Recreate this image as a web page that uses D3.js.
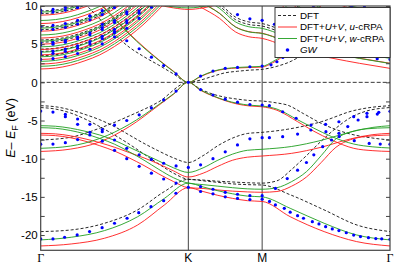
<!DOCTYPE html>
<html>
<head>
<meta charset="utf-8">
<script src="https://cdn.jsdelivr.net/npm/d3@7"></script>
<style>
  html, body { margin: 0; padding: 0; background: #fff; }
  svg { display: block; font-family: "Liberation Sans", Arial, sans-serif; }
</style>
</head>
<body>
<svg id="chart" width="397" height="266"></svg>
<script>
// k path in units of |ΓK| : Γ=0, K=1, M=1.5, Γ=2.366
var kPoints = [0, 1, 1.5, 2.366];
var kLabels = ["Γ", "K", "M", "Γ"];
var yTicks = [-20, -17.5, -15, -12.5, -10, -7.5, -5, -2.5, 0, 2.5, 5, 7.5, 10];

// ---- DFT (dashed black) ----
var dftPi = [[0,-7.55],[0.2,-7.2],[0.4,-6.0],[0.6,-4.4],[0.8,-2.55],[1,0],[1.083,-0.9],[1.167,-1.55],[1.25,-1.95],[1.333,-2.2],[1.417,-2.38],[1.5,-2.45],[1.6,-2.7],[1.67,-2.97],[1.78,-4.1],[1.9,-5.37],[2.08,-6.68],[2.25,-7.3],[2.366,-7.55]];
var dftPiStar = [[0.3,10.3],[0.4,8.3],[0.5,6.3],[0.6,4.6],[0.7,3.35],[0.8,2.25],[0.9,1.1],[1,0],[1.083,0.3],[1.167,0.8],[1.25,1.25],[1.333,1.45],[1.417,1.6],[1.5,1.7],[1.6,2.1],[1.7,2.8],[1.75,3.35],[1.84,5.1],[1.9,6.4],[2.0,8.6],[2.08,10.4]];
var dftSig3 = [[0,-3.06],[0.1,-3.2],[0.2,-3.6],[0.3,-4.2],[0.4,-4.9],[0.5,-5.8],[0.6,-6.9],[0.7,-8.0],[0.8,-9.0],[0.9,-9.9],[1,-10.5],[1.1,-9.6],[1.2,-8.3],[1.3,-7.3],[1.4,-6.7],[1.5,-6.55],[1.67,-6.15],[1.9,-5.16],[2.12,-3.7],[2.25,-3.25],[2.366,-3.06]];
var dftSig2 = [[0,-3.3],[0.1,-3.5],[0.2,-4.0],[0.3,-4.8],[0.4,-5.8],[0.5,-6.9],[0.6,-8.1],[0.7,-9.4],[0.8,-10.7],[0.9,-11.9],[1,-12.7],[1.1,-12.8],[1.2,-12.95],[1.3,-13.05],[1.4,-13.15],[1.5,-13.2],[1.6,-12.9],[1.7,-11.4],[1.8,-9.6],[1.9,-7.7],[2.0,-6.0],[2.1,-4.6],[2.2,-3.8],[2.366,-3.3]];
var dftSig1 = [[0,-19.55],[0.207,-19.33],[0.432,-18.46],[0.657,-16.7],[0.838,-14.3],[1,-12.7],[1.1,-12.9],[1.2,-13.1],[1.3,-13.3],[1.4,-13.4],[1.5,-13.45],[1.693,-14.75],[1.919,-16.7],[2.144,-18.7],[2.366,-19.55]];

// ---- DFT+U+V, u-cRPA (red) ----
var uPi = [[0,-9.05],[0.2,-8.75],[0.4,-7.8],[0.6,-5.8],[0.8,-3.0],[0.9,-1.55],[1,0],[1.083,-1.05],[1.167,-1.8],[1.25,-2.4],[1.333,-2.85],[1.417,-3.1],[1.5,-3.2],[1.6,-3.65],[1.74,-5.15],[1.85,-6.4],[1.97,-7.55],[2.12,-8.64],[2.25,-8.95],[2.366,-9.05]];
var uPiStar = [[0.4,10.5],[0.5,8.4],[0.6,6.4],[0.7,4.6],[0.8,2.95],[0.9,1.45],[1,0],[1.083,0.75],[1.167,1.4],[1.25,1.75],[1.333,1.88],[1.417,1.95],[1.5,2.0],[1.57,2.55],[1.64,3.4],[1.7,4.5],[1.75,5.8],[1.8,7.2],[1.85,8.6],[1.9,10.1]];
var uSig3 = [[0,-6.68],[0.1,-6.75],[0.2,-7.0],[0.3,-7.4],[0.4,-7.9],[0.5,-8.5],[0.6,-9.2],[0.7,-9.9],[0.8,-10.7],[0.9,-11.6],[1,-12.4],[1.1,-11.9],[1.2,-11.0],[1.3,-10.2],[1.4,-9.8],[1.5,-9.65],[1.7,-9.3],[1.9,-8.5],[2.1,-7.4],[2.25,-6.85],[2.366,-6.68]];
var uSig2 = [[0,-6.9],[0.1,-6.98],[0.2,-7.25],[0.3,-7.7],[0.4,-8.3],[0.5,-9.0],[0.6,-9.9],[0.7,-10.9],[0.8,-12.0],[0.9,-13.0],[1,-13.8],[1.1,-13.9],[1.2,-14.1],[1.3,-14.25],[1.4,-14.35],[1.5,-14.4],[1.6,-14.3],[1.7,-13.6],[1.8,-12.4],[1.9,-10.5],[2.0,-8.5],[2.1,-7.5],[2.2,-7.1],[2.366,-6.9]];
var uSig1 = [[0,-21.43],[0.207,-21.17],[0.432,-20.42],[0.657,-18.68],[0.838,-16.06],[1,-13.8],[1.1,-14.3],[1.2,-14.8],[1.3,-15.2],[1.4,-15.5],[1.5,-15.6],[1.69,-17.6],[1.92,-19.55],[2.14,-20.86],[2.366,-21.43]];
var uTopK = [[0.78,10.2],[0.9,9.75],[1,9.55],[1.1,9.75],[1.2,10.2]];

// ---- DFT+U+V, w-cRPA (green) ----
var wPi = [[0,-8.64],[0.2,-8.35],[0.4,-7.35],[0.6,-5.5],[0.8,-2.9],[0.9,-1.5],[1,0],[1.083,-1.0],[1.167,-1.75],[1.25,-2.35],[1.333,-2.75],[1.417,-3.0],[1.5,-3.1],[1.6,-3.5],[1.74,-4.9],[1.85,-6.0],[1.97,-7.1],[2.12,-8.08],[2.25,-8.45],[2.366,-8.6]];
var wPiStar = [[0.4,10.3],[0.5,8.3],[0.6,6.3],[0.7,4.5],[0.8,2.9],[0.9,1.4],[1,0],[1.083,0.8],[1.167,1.45],[1.25,1.8],[1.333,1.95],[1.417,2.03],[1.5,2.1],[1.57,2.7],[1.64,3.57],[1.7,4.66],[1.75,6.0],[1.8,7.4],[1.85,8.8],[1.9,10.3]];
var wSig3 = [[0,-5.68],[0.1,-5.75],[0.2,-6.0],[0.3,-6.4],[0.4,-6.9],[0.5,-7.6],[0.6,-8.5],[0.7,-9.4],[0.8,-10.3],[0.9,-11.2],[1,-11.8],[1.1,-11.2],[1.2,-10.2],[1.3,-9.4],[1.4,-8.9],[1.5,-8.77],[1.7,-8.4],[1.9,-7.6],[2.1,-6.5],[2.25,-5.9],[2.366,-5.68]];
var wSig2 = [[0,-5.94],[0.1,-6.02],[0.2,-6.3],[0.3,-6.75],[0.4,-7.35],[0.5,-8.1],[0.6,-9.1],[0.7,-10.2],[0.8,-11.4],[0.9,-12.5],[1,-13.2],[1.1,-13.4],[1.2,-13.6],[1.3,-13.8],[1.4,-13.95],[1.5,-14.0],[1.6,-13.8],[1.7,-13.0],[1.8,-11.7],[1.9,-9.6],[2.0,-7.4],[2.1,-6.5],[2.2,-6.1],[2.366,-5.94]];
var wSig1 = [[0,-20.64],[0.207,-20.29],[0.432,-19.42],[0.657,-17.6],[0.838,-15.2],[1,-13.2],[1.1,-13.7],[1.2,-14.2],[1.3,-14.6],[1.4,-14.9],[1.5,-15.0],[1.69,-16.5],[1.92,-18.46],[2.14,-19.99],[2.366,-20.64]];
var wTopK = [[0.82,10.1],[1,9.75],[1.15,10.1]];

// ---- GW (blue dots) ----
var gwPi = [[0,-8.1],[0.083,-8.08],[0.167,-7.9],[0.25,-7.5],[0.333,-6.9],[0.417,-6.2],[0.5,-5.6],[0.583,-5.0],[0.667,-4.25],[0.75,-3.35],[0.833,-2.3],[0.917,-1.14],[1,0],[1.083,-0.95],[1.167,-1.66],[1.25,-2.2],[1.333,-2.6],[1.417,-2.9],[1.5,-2.97],[1.549,-3.06],[1.639,-3.85],[1.73,-4.7],[1.831,-5.6],[1.932,-6.46],[2.022,-7.1],[2.124,-7.64],[2.225,-8.0],[2.3,-8.08],[2.366,-8.1]];
var gwPiStar = [[0.25,9.8],[0.333,8.7],[0.417,7.6],[0.5,6.5],[0.583,5.45],[0.667,4.4],[0.75,3.3],[0.833,2.2],[0.917,1.1],[1.083,0.82],[1.167,1.48],[1.25,1.83],[1.333,1.96],[1.417,2.04],[1.5,2.13],[1.56,2.3],[1.6,2.7],[1.64,3.27],[1.7,4.2],[1.75,5.1],[1.8,6.1],[1.85,7.2],[1.9,8.3],[1.95,9.4]];
var gwSig3 = [[0,-3.76],[0.083,-3.9],[0.167,-4.2],[0.25,-4.8],[0.333,-5.5],[0.417,-6.46],[0.5,-7.55],[0.583,-8.64],[0.667,-9.5],[0.75,-10.1],[0.833,-10.6],[0.917,-10.95],[1,-11.15],[1.083,-10.8],[1.167,-10.0],[1.25,-9.1],[1.333,-8.2],[1.417,-7.4],[1.5,-7.25],[1.549,-7.25],[1.639,-7.12],[1.74,-6.77],[1.83,-6.24],[1.93,-5.5],[2.02,-5.16],[2.12,-4.5],[2.21,-4.06],[2.29,-3.93],[2.366,-3.8]];
var gwSig2 = [[0.167,-4.5],[0.25,-5.5],[0.333,-6.55],[0.417,-7.7],[0.5,-8.9],[0.583,-10.0],[0.667,-11.0],[0.75,-11.9],[0.833,-12.66],[0.917,-13.2],[1,-13.75],[1.083,-13.66],[1.167,-14.0],[1.25,-14.4],[1.333,-14.66],[1.417,-14.84],[1.5,-14.84],[1.59,-13.9],[1.67,-12.6],[1.74,-11.5],[1.8,-10.5],[1.85,-9.5],[1.91,-8.43],[1.97,-7.55],[2.02,-6.68],[2.08,-5.8],[2.15,-4.93],[2.21,-4.5],[2.28,-4.15]];
var gwSig1 = [[0,-20.51],[0.083,-20.51],[0.162,-20.29],[0.247,-19.99],[0.331,-19.55],[0.416,-19.03],[0.5,-18.46],[0.585,-17.8],[0.664,-17.07],[0.747,-16.28],[0.833,-15.5],[0.916,-14.53],[1.083,-14.3],[1.167,-14.6],[1.25,-15.0],[1.333,-15.2],[1.417,-15.35],[1.5,-15.3],[1.55,-15.6],[1.59,-16.06],[1.65,-16.5],[1.69,-17.0],[1.74,-17.46],[1.78,-17.8],[1.84,-18.25],[1.885,-18.55],[1.93,-18.9],[1.975,-19.2],[2.02,-19.42],[2.07,-19.7],[2.12,-20.0],[2.166,-20.2],[2.22,-20.34],[2.27,-20.47],[2.31,-20.5],[2.366,-20.55]];

// ---- free-electron-like conduction bands above 1.5 eV ----
// dispersion, away from Γ along Γ-K (and mirrored along Γ-M)
var vacShapeK  = [0, 0.1, 0.2, 0.3, 0.4, 0.5, 0.6, 0.7, 0.8, 0.9];
var vacShapeDE = [0, 0.12, 0.48, 1.08, 1.85, 2.95, 4.3, 5.9, 7.8, 9.8];
// flat branch from right Γ through M toward K
var flatShapeK  = [1.0, 1.08, 1.21, 1.32, 1.41, 1.5, 1.64, 1.82, 1.98, 2.16, 2.366];
var flatShapeDE = [9.0, 8.07, 6.57, 4.77, 4.14, 3.93, 3.05, 1.97, 1.31, 0.66, 0];
// band minima at Γ
var dftVacLeft  = [3.5, 4.05, 4.35, 5.25, 5.55, 6.9, 7.25, 9.0, 9.35];
var dftVacRight = [5.25, 6.9, 9.0];
var dftFlat     = [3.44, 3.77];
var uVacLeft    = [1.75, 2.4, 3.0, 3.6, 4.3, 5.0, 5.8, 6.7, 7.7, 8.8];
var uVacRight   = [3.6, 5.0, 6.7, 8.8];
var uFlat       = [1.83, 2.5];
var wVacLeft    = [2.1, 2.75, 3.35, 3.95, 4.65, 5.4, 6.2, 7.1, 8.1, 9.2];
var wVacRight   = [3.95, 5.4, 7.1, 9.2];
var wFlat       = [2.47, 3.14];
var gwVacLeft   = [3.0, 3.7, 4.0, 4.9, 5.15, 6.85, 7.35, 9.1, 9.45];
var gwVacRight  = [3.0, 3.7, 4.9, 5.15, 6.85, 7.35, 9.1, 9.45];
var gwFlat      = [4.2];
var gwFlatK     = [1.333, 1.417, 1.5, 1.583, 1.67, 1.76, 1.85, 1.94, 2.02, 2.11, 2.19, 2.28, 2.366];

var RED = "#ff1a1a", GREEN = "#1f9e1f", BLUE = "#0000ff";

var svg = d3.select("#chart");
var pLeft = 40.7, pRight = 390, pTop = 6, pBottom = 250.3;

var x = d3.scaleLinear().domain([0, 2.366]).range([pLeft, pRight]);
var y = d3.scaleLinear().domain([-22, 10]).range([pBottom, pTop]);

var vacShape = d3.scaleLinear().domain(vacShapeK).range(vacShapeDE);
var flatShape = d3.scaleLinear().domain(flatShapeK).range(flatShapeDE);

svg.append("clipPath").attr("id", "plotClip")
  .append("rect").attr("x", pLeft).attr("y", pTop)
  .attr("width", pRight - pLeft).attr("height", pBottom - pTop);

var plot = svg.append("g").attr("clip-path", "url(#plotClip)");

// high symmetry verticals and zero line
plot.selectAll(".kline").data(kPoints.slice(1, 3)).enter().append("line")
  .attr("x1", d => x(d)).attr("x2", d => x(d))
  .attr("y1", pTop).attr("y2", pBottom)
  .attr("stroke", "#444").attr("stroke-width", 1);
plot.append("line")
  .attr("x1", pLeft).attr("x2", pRight).attr("y1", y(0)).attr("y2", y(0))
  .attr("stroke", "#222").attr("stroke-width", 0.9).attr("stroke-dasharray", "4,2");

function vacBands(leftB, rightB, flatB) {
  var out = [];
  leftB.forEach(b => out.push(vacShapeK.map(k => [k, b + vacShape(k)])));
  rightB.forEach(b => out.push(vacShapeK.map(k => [2.366 - k, b + vacShape(k)]).reverse()));
  flatB.forEach(b => out.push(flatShapeK.map(k => [k, b + flatShape(k)])));
  return out;
}

var line = d3.line()
  .x(d => x(d[0])).y(d => y(d[1]))
  .curve(d3.curveMonotoneX);

function drawBands(bands, color, dash, cls) {
  plot.append("g").attr("class", cls)
    .selectAll("path").data(bands).enter().append("path")
    .attr("d", line)
    .attr("fill", "none")
    .attr("stroke", color)
    .attr("stroke-width", 0.9)
    .attr("stroke-dasharray", dash);
}

var dftBands = [dftPi, dftPiStar, dftSig3, dftSig2, dftSig1].concat(vacBands(dftVacLeft, dftVacRight, dftFlat));
var uBands = [uPi, uPiStar, uSig3, uSig2, uSig1, uTopK].concat(vacBands(uVacLeft, uVacRight, uFlat));
var wBands = [wPi, wPiStar, wSig3, wSig2, wSig1, wTopK].concat(vacBands(wVacLeft, wVacRight, wFlat));

drawBands(dftBands, "#111", "3,2", "dft");
drawBands(uBands, RED, null, "ucrpa");
drawBands(wBands, GREEN, null, "wcrpa");

// GW dots
var gwDots = [].concat(gwPi, gwPiStar, gwSig3, gwSig2, gwSig1);
var gwStep = d3.range(0, 0.92, 1 / 12);
gwVacLeft.forEach(b => gwStep.forEach(k => gwDots.push([k, b + vacShape(k)])));
var gwStepR = d3.range(0, 0.87, 0.0866);
gwVacRight.forEach(b => gwStepR.forEach(k => gwDots.push([2.366 - k, b + vacShape(k)])));
gwFlat.forEach(b => gwFlatK.forEach(k => gwDots.push([k, b + flatShape(k)])));
gwDots = gwDots.filter(d => d[1] <= 10.1);

plot.append("g").attr("class", "gw")
  .selectAll("circle").data(gwDots).enter().append("circle")
  .attr("cx", d => x(d[0])).attr("cy", d => y(d[1]))
  .attr("r", 1.6).attr("fill", BLUE);

// frame
svg.append("rect")
  .attr("x", pLeft).attr("y", pTop)
  .attr("width", pRight - pLeft).attr("height", pBottom - pTop)
  .attr("fill", "none").attr("stroke", "#444").attr("stroke-width", 1.2);

// y axes (inward ticks every 2.5, labels every 5)
var yAxisL = d3.axisLeft(y).tickValues(yTicks).tickSize(-4).tickPadding(3)
  .tickFormat(d => d % 5 === 0 ? String(d) : "");
var gL = svg.append("g").attr("transform", "translate(" + pLeft + ",0)").call(yAxisL);
gL.select(".domain").remove();
gL.selectAll(".tick line").attr("stroke", "#444");
gL.selectAll("text").attr("font-size", 11.5).attr("fill", "#000")
  .attr("font-family", "'Liberation Sans', Arial, sans-serif");

var yAxisR = d3.axisRight(y).tickValues(yTicks).tickSize(-4).tickFormat("");
var gR = svg.append("g").attr("transform", "translate(" + pRight + ",0)").call(yAxisR);
gR.select(".domain").remove();
gR.selectAll(".tick line").attr("stroke", "#444");

// k labels
svg.append("g").selectAll("text").data(kPoints).enter().append("text")
  .attr("x", d => x(d)).attr("y", 261.5)
  .attr("text-anchor", "middle")
  .attr("font-size", 12)
  .attr("font-family", (d, i) => kLabels[i] === "Γ" ? "'Liberation Serif', serif" : "'Liberation Sans', Arial, sans-serif")
  .text((d, i) => kLabels[i]);

// y title
var yt = svg.append("text")
  .attr("transform", "translate(15,128) rotate(-90)")
  .attr("text-anchor", "middle").attr("font-size", 12.5);
yt.append("tspan").attr("font-style", "italic").text("E");
yt.append("tspan").text("– ");
yt.append("tspan").attr("font-style", "italic").text("E");
yt.append("tspan").attr("font-size", 9).attr("dy", 3).text("F");
yt.append("tspan").attr("dy", -3).text(" (eV)");

// legend
var lg = svg.append("g");
lg.append("rect").attr("x", 275).attr("y", 7.5).attr("width", 115).attr("height", 50)
  .attr("fill", "#fff").attr("stroke", "#222").attr("stroke-width", 0.9);

var legendRows = [
  { color: "#111", dash: "3,2", y: 15.5, parts: [["DFT", false]] },
  { color: RED, dash: null, y: 27, parts: [["DFT+", false], ["U", true], ["+", false], ["V", true], [", ", false], ["u", true], ["-cRPA", false]] },
  { color: GREEN, dash: null, y: 38.5, parts: [["DFT+", false], ["U", true], ["+", false], ["V", true], [", ", false], ["w", true], ["-cRPA", false]] },
  { dot: true, y: 50, parts: [["GW", true]] }
];
legendRows.forEach(function (r) {
  if (r.dot) {
    lg.append("circle").attr("cx", 287.5).attr("cy", r.y).attr("r", 1.8).attr("fill", BLUE);
  } else {
    lg.append("line").attr("x1", 278).attr("x2", 297).attr("y1", r.y).attr("y2", r.y)
      .attr("stroke", r.color).attr("stroke-width", 0.9).attr("stroke-dasharray", r.dash);
  }
  var t = lg.append("text").attr("x", 300).attr("y", r.y + 3.4).attr("font-size", 9.8);
  r.parts.forEach(p => t.append("tspan").attr("font-style", p[1] ? "italic" : null).text(p[0]));
});
</script>
</body>
</html>
